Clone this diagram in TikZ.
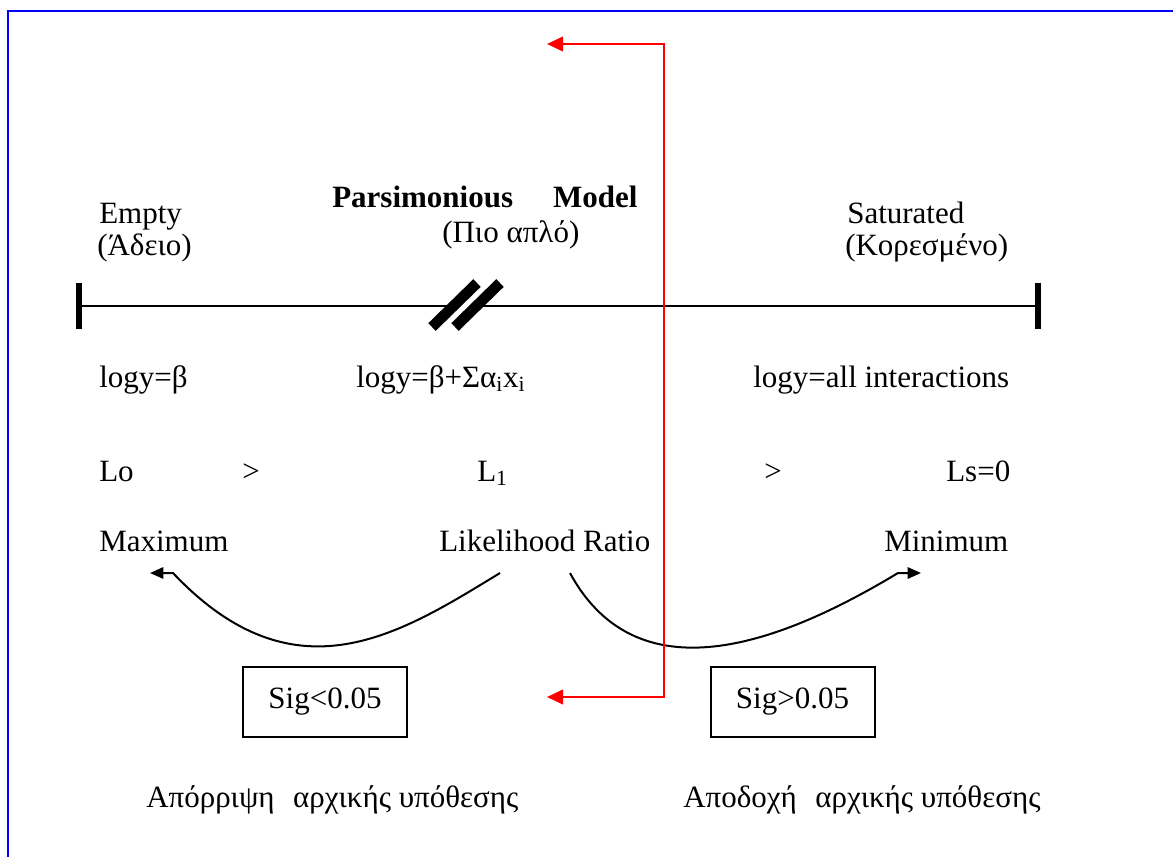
\documentclass[tikz,border=0pt]{standalone}
\usepackage{fontspec}
\setmainfont{Liberation Serif}
\usetikzlibrary{arrows.meta}
\begin{document}
\begin{tikzpicture}[x=0.75pt,y=-0.75pt,
  txt/.style={anchor=base west,inner sep=0pt,font=\fontsize{23.25}{28}\selectfont},
  sigbox/.style={draw,line width=1.5pt,inner sep=0pt,minimum width=164*0.75pt,minimum height=70*0.75pt,font=\fontsize{23.25}{28}\selectfont},
  curve/.style={line width=1.5pt,-{Triangle[length=10pt,width=8.5pt]}},
  redarr/.style={red,line width=1.5pt,{Triangle[length=12pt,width=11pt]}-{Triangle[length=12pt,width=11pt]}},
  tick/.style={line width=4.5pt},
  bar/.style={line width=8pt}]
\path[use as bounding box] (0,0) rectangle (1173,856);
% blue frame
\draw[blue,line width=1.6pt] (8,870) -- (8,11) -- (1185,11);

% top labels
\node[txt] (empty) at (99,223) {Empty};
\node[txt] (emptygr) at (97,255) {(Άδειο)};
\node[txt] (pars) at (332,207) {\bfseries Parsimonious\hspace{30pt}Model};
\node[txt] (parsgr) at (442,242) {(Πιο απλό)};
\node[txt] (sat) at (847,223) {Saturated};
\node[txt] (satgr) at (845,255) {(Κορεσμένο)};

% axis
\coordinate (axL) at (78,306);
\coordinate (axR) at (1040,306);
\coordinate (brk1) at (456,306);
\coordinate (brk2) at (474,306);
\draw[line width=1.6pt] (axL) -- (brk1);
\draw[line width=1.6pt] (brk2) -- (axR);
\draw[tick] (79,283) -- (79,329);
\draw[tick] (1038,283) -- (1038,329);
\draw[bar] (432,327) -- (477,283);
\draw[bar] (455,327) -- (500,283);

% model formulas
\node[txt] (m0) at (99,387) {logy=β};
\node[txt] (m1) at (356,387) {logy=β+Σα\textsubscript{i}x\textsubscript{i}};
\node[txt] (ms) at (753,387) {logy=all interactions};

% likelihoods
\node[txt] (lo) at (99,481) {Lo};
\node[txt] (gt1) at (242,481) {>};
\node[txt] (l1) at (477,481) {L\textsubscript{1}};
\node[txt] (gt2) at (764,481) {>};
\node[txt] (ls) at (946,481) {Ls=0};

% bottom row
\node[txt] (max) at (99,551) {Maximum};
\node[txt] (lr) at (439,551) {Likelihood Ratio};
\node[txt] (min) at (884,551) {Minimum};

% curves
\coordinate (lcs) at (500,573);
\coordinate (lce) at (173,573);
\coordinate (ltip) at (150,573);
\coordinate (rcs) at (570,573);
\coordinate (rce) at (898,573);
\coordinate (rtip) at (921,573);
\draw[curve] (lcs) .. controls (400,634) and (295,702) .. (lce) -- (ltip);
\draw[curve] (rcs) .. controls (640,702) and (790,638) .. (rce) -- (rtip);

% boxes
\node[sigbox] (sigl) at (325,702) {Sig<0.05};
\node[sigbox] (sigr) at (792.5,702) {Sig>0.05};

% red arrow
\coordinate (rtop) at (547,44);
\coordinate (rbot) at (547,697);
\coordinate (rv1) at (664,44);
\coordinate (rv2) at (664,697);
\draw[redarr] (rtop) -- (rv1) -- (rv2) -- (rbot);

% conclusions
\node[txt] (rej) at (146,807) {Απόρριψη\hspace{8pt} αρχικής υπόθεσης};
\node[txt] (acc) at (683,807) {Αποδοχή\hspace{8pt} αρχικής υπόθεσης};
\end{tikzpicture}
\end{document}
